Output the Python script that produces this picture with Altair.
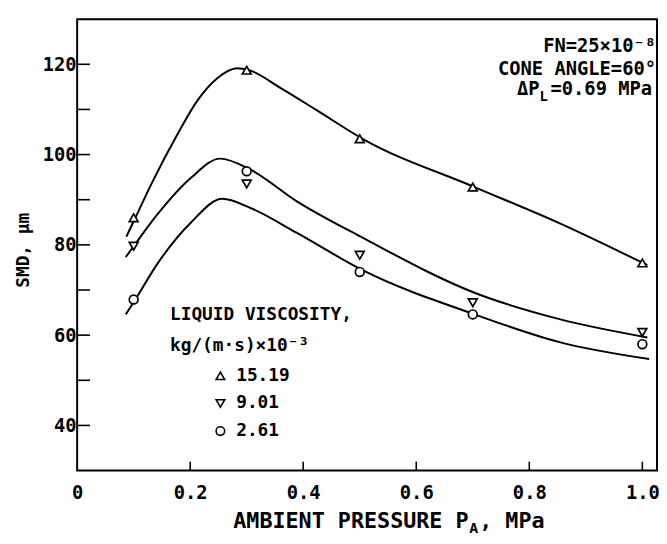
import altair as alt
import pandas as pd

# ---------------- data ----------------
pressure = [0.1, 0.3, 0.5, 0.7, 1.0]
visc_labels = ["15.19", "9.01", "2.61"]
smd_1519 = [86.0, 118.7, 103.5, 92.8, 76.0]
smd_901 = [79.7, 93.5, 77.7, 67.2, 60.6]
smd_261 = [67.9, 96.3, 74.0, 64.6, 58.0]

# hand-drawn fitted curves
curve_x_1519 = [0.087, 0.103, 0.131, 0.178, 0.213, 0.248, 0.283, 0.304, 0.358, 0.423, 0.505, 0.703, 0.855, 1.009]
curve_y_1519 = [81.8, 86.0, 93.4, 104.6, 112.0, 116.9, 119.1, 118.7, 114.9, 109.9, 103.5, 92.8, 84.7, 75.5]
curve_x_901 = [0.086, 0.100, 0.143, 0.201, 0.253, 0.306, 0.388, 0.505, 0.703, 0.855, 1.009]
curve_y_901 = [77.3, 79.7, 86.9, 94.8, 99.1, 96.7, 89.7, 81.6, 69.4, 63.5, 59.5]
curve_x_261 = [0.086, 0.103, 0.143, 0.201, 0.257, 0.306, 0.388, 0.505, 0.703, 0.855, 1.012]
curve_y_261 = [64.6, 67.9, 76.0, 84.9, 90.2, 88.2, 82.7, 74.4, 64.6, 58.4, 54.7]

x_label_values = [0, 0.2, 0.4, 0.6, 0.8, 1.0]
x_tick_values = [0.2, 0.4, 0.6, 0.8, 1.0]
y_label_values = [40, 60, 80, 100, 120]
y_tick_values = [40, 50, 60, 70, 80, 90, 100, 110, 120]

# ---------------- tables ----------------
pts_rows = []
curve_rows = []
for lab, ys_, cx, cy in [
    (visc_labels[0], smd_1519, curve_x_1519, curve_y_1519),
    (visc_labels[1], smd_901, curve_x_901, curve_y_901),
    (visc_labels[2], smd_261, curve_x_261, curve_y_261),
]:
    for p, s in zip(pressure, ys_):
        pts_rows.append({"p": p, "smd": s, "series": lab})
    for p, s in zip(cx, cy):
        curve_rows.append({"p": p, "smd": s, "series": lab})
pts = pd.DataFrame(pts_rows)
curves = pd.DataFrame(curve_rows)
xt = pd.DataFrame({"p": x_tick_values})
yt = pd.DataFrame({"smd": y_tick_values})

FONT = "DejaVu Sans Mono"
W, H = 587, 457

xs = alt.Scale(domain=[0, 1.026], nice=False, zero=False)
ys = alt.Scale(domain=[30, 130], nice=False, zero=False)

x_axis = alt.Axis(values=x_label_values, labelExpr="datum.value == 0 ? '0' : format(datum.value, '.1f')",
                  ticks=False, domain=False, grid=False, title=None, labelFont=FONT, labelFontSize=19,
                  labelFontWeight="bold", labelColor="black", labelPadding=13, labelFlush=False, labelOverlap=False)
y_axis = alt.Axis(values=y_label_values, ticks=False, domain=False, grid=False, title=None, labelFont=FONT,
                  labelFontSize=19, labelFontWeight="bold", labelColor="black", labelPadding=1,
                  labelFlush=False, labelOverlap=False)

X = alt.X("p:Q", scale=xs, axis=x_axis)
Y = alt.Y("smd:Q", scale=ys, axis=y_axis)

lines = alt.Chart(curves).mark_line(interpolate="monotone", color="black", strokeWidth=2).encode(
    x=X, y=Y, detail="series:N")

shape_scale = alt.Scale(domain=visc_labels, range=["triangle-up", "triangle-down", "circle"])

# white discs under the open symbols so the curves do not show through them
under = alt.Chart(pts).mark_point(filled=True, color="white", size=80, opacity=1).encode(
    x=X, y=Y, shape=alt.Shape("series:N", scale=shape_scale, legend=None))

points = alt.Chart(pts).mark_point(filled=False, color="black", strokeWidth=1.7, size=80, opacity=1).encode(
    x=X, y=Y,
    shape=alt.Shape("series:N", scale=shape_scale, legend=alt.Legend(
        title=["LIQUID VISCOSITY,", "kg/(m·s)×10⁻³"], orient="none", legendX=94, legendY=291,
        titleFont=FONT, titleFontSize=18, titleFontWeight="bold", titleColor="black", titleLineHeight=31,
        titleLimit=400, titlePadding=12, labelFont=FONT, labelFontSize=18, labelFontWeight="bold",
        labelColor="black", symbolOffset=42, symbolSize=75, symbolStrokeWidth=1.6,
        symbolStrokeColor="black", rowPadding=10, labelOffset=7, padding=0)))

xticks = alt.Chart(xt).mark_rule(color="black", strokeWidth=1.6).encode(
    x=X, y=alt.value(H), y2=alt.value(H - 9))
yticks = alt.Chart(yt).mark_rule(color="black", strokeWidth=1.6).encode(
    y=Y, x=alt.value(0), x2=alt.value(13))


def label(text, x, y, size=19, align="left", angle=0, dy=0):
    return alt.Chart(pd.DataFrame({"t": [text]})).mark_text(
        font=FONT, fontSize=size, fontWeight="bold", color="black", align=align,
        baseline="middle", angle=angle, dy=dy).encode(
        text="t:N", x=alt.value(x), y=alt.value(y))


annots = [
    label("FN=25×10⁻⁸", 586, 27, align="right"),
    label("CONE ANGLE=60°", 586, 51, align="right"),
    label("=0.69 MPa", 582, 71, align="right"),
    label("L", 468, 71, size=14, dy=8),
    label("ΔP", 468, 71, align="right"),
    # x title with subscript
    label("AMBIENT PRESSURE P", 158, 508, size=22),
    label("A", 397, 508, size=15, dy=7),
    label(", MPa", 407, 508, size=22),
    # y title
    label("SMD, μm", -54, 234, size=18, align="center", angle=270),
]

chart = alt.layer(lines, xticks, yticks, under, points, *annots).resolve_legend(
    shape="independent"
).properties(
    width=W, height=H,
    autosize=alt.AutoSizeParams(type="none"),
    padding={"left": 70, "top": 8, "right": 2, "bottom": 68},
    background="white",
).configure_view(stroke="black", strokeWidth=2)

chart.save("out.html", embed_options={"renderer": "svg", "actions": False})
